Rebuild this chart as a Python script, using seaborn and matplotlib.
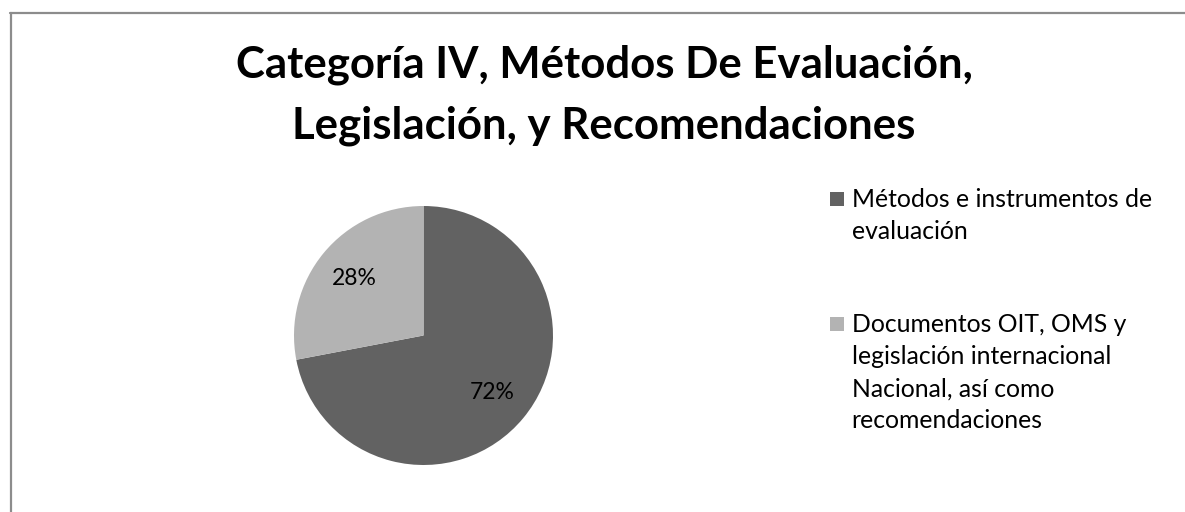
import matplotlib
matplotlib.use("Agg")
import matplotlib.pyplot as plt
from matplotlib.lines import Line2D
from matplotlib.patches import Rectangle, Wedge
from matplotlib.legend_handler import HandlerPatch
import seaborn as sns

# datos
categorias = ["Métodos e instrumentos de\nevaluación",
              "Documentos OIT, OMS y\nlegislación internacional\nNacional, así como\nrecomendaciones"]
porcentajes = [72, 28]
colores = ["#626262", "#b3b3b3"]
titulo = "Categoría IV, Métodos De Evaluación,\nLegislación, y Recomendaciones"

sns.set_theme(style="white")
plt.rcParams['font.family'] = ['Lato', 'DejaVu Sans']
plt.rcParams['text.color'] = 'black'

W, H = 1185, 512
fig = plt.figure(figsize=(W / 100, H / 100), dpi=100)
fig.patch.set_facecolor("white")

# borde del grafico (solo arriba e izquierda visibles)
fig.add_artist(Line2D([10 / W, 1.0], [1 - 13 / H, 1 - 13 / H], color="#8c8c8c", lw=1.6))
fig.add_artist(Line2D([11 / W, 11 / W], [0, 1 - 13 / H], color="#8c8c8c", lw=1.6))

# pastel: centro (424, 335), radio 130 px
cx, cy, r = 423.5, 335.5, 129.5
ax = fig.add_axes([(cx - r) / W, (H - cy - r) / H, 2 * r / W, 2 * r / H])
wedges, textos, autotextos = ax.pie(porcentajes, colors=colores, startangle=90,
                                    counterclock=False, autopct="%1.0f%%",
                                    pctdistance=0.69, radius=1,
                                    wedgeprops=dict(linewidth=0),
                                    textprops=dict(fontsize=16.5, color="black"))
ax.set_xlim(-1, 1)
ax.set_ylim(-1, 1)
ax.axis("off")

fig.text(604 / W, 1 - 95 / H, titulo, ha="center", va="center",
         fontsize=31.5, fontweight="bold", linespacing=1.63, color="black")


# cuadrito de la leyenda alineado con la primera linea
def cuadro(legend, orig_handle, xdescent, ydescent, width, height, fontsize):
    return Rectangle((-xdescent, -ydescent), width, width)


fs = 17.8
leg = fig.legend(wedges, categorias, loc="upper left",
                 bbox_to_anchor=(830 / W, 1 - 188 / H), frameon=False,
                 fontsize=fs, handlelength=0.57, handleheight=0.77,
                 handletextpad=0.3, labelspacing=2.8, borderpad=0,
                 borderaxespad=0,
                 handler_map={Wedge: HandlerPatch(patch_func=cuadro)})
for t in leg.get_texts():
    t.set_linespacing(1.49)
    t.set_color("black")
for col in leg._legend_handle_box.get_children():
    for item in col.get_children():
        item.align = "top"

fig.savefig("out.png", dpi=100)
